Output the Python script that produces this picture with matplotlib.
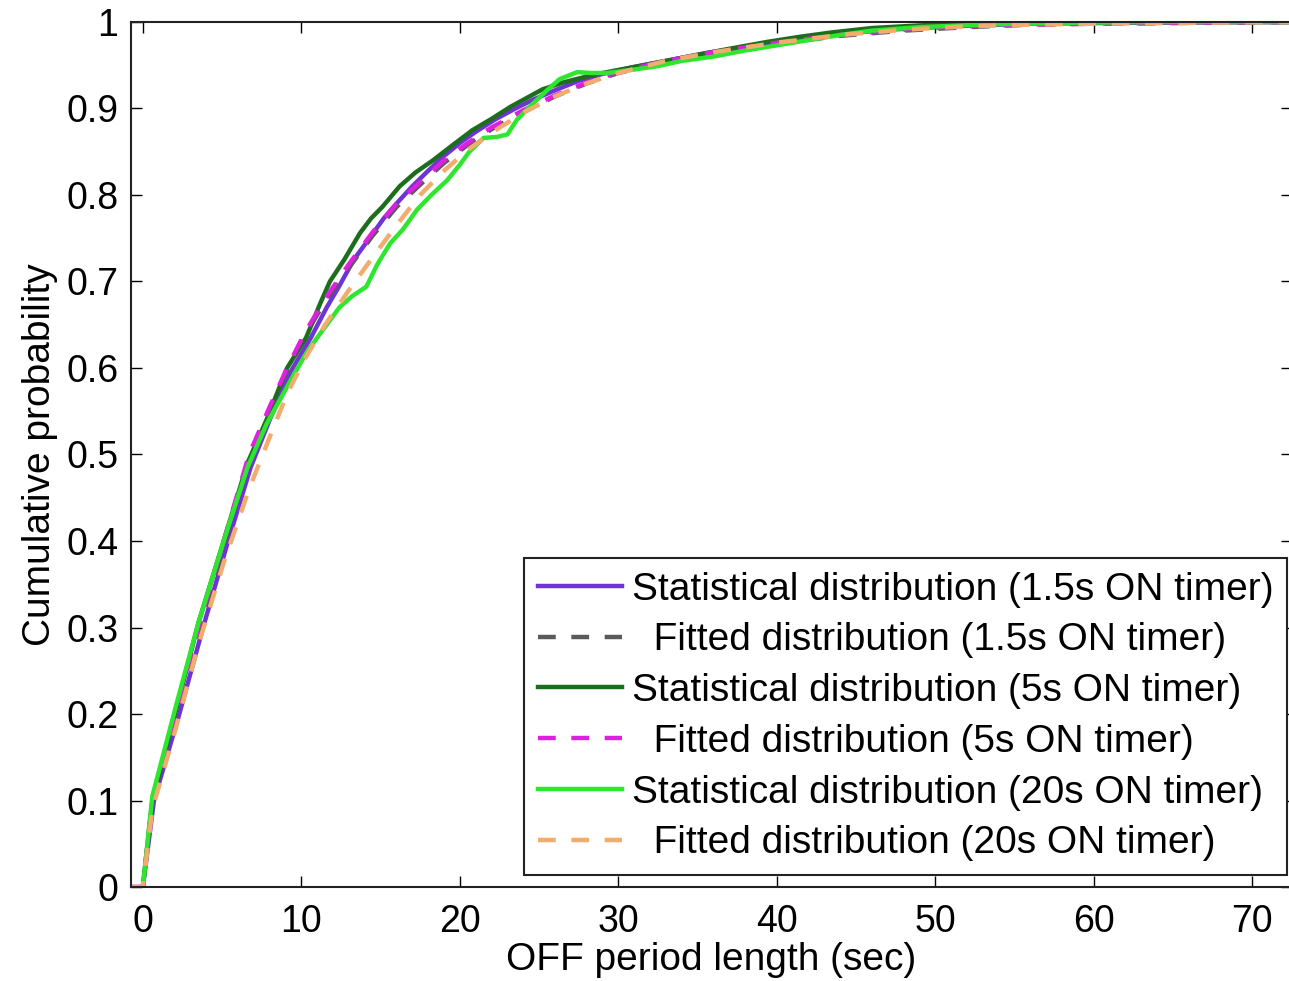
import matplotlib.pyplot as plt

plt.rcParams['font.family'] = ['Liberation Sans', 'DejaVu Sans']

# OFF period CDFs
x_stat_1_5 = [0, 0.7, 2.3, 3.8, 5.3, 6.8, 8.0, 9.3, 10.6, 11.6, 12.4, 13.3, 14.3, 15.2, 16.0,
              17.0, 18.0, 19.0, 20.0, 21.0, 22.2, 23.4, 24.6, 26, 27.5, 29, 31, 33, 35.5,
              38, 41, 44, 47, 51, 56, 62, 72.5]
p_stat_1_5 = [0, 0.10, 0.20, 0.30, 0.395, 0.485, 0.54, 0.595, 0.635, 0.67, 0.695, 0.725, 0.75,
              0.773, 0.79, 0.81, 0.828, 0.845, 0.86, 0.873, 0.887, 0.899, 0.91, 0.921, 0.932,
              0.94, 0.948, 0.955, 0.964, 0.971, 0.979, 0.986, 0.991, 0.995, 0.998, 0.999, 1.0]

x_stat_5 = [0, 0.6, 2.1, 3.5, 5.1, 6.6, 7.8, 9.1, 10.3, 11.2, 11.8, 12.7, 13.7, 14.4, 15.1,
            16.2, 17.2, 18.3, 19.5, 20.8, 22.0, 23.2, 24.2, 25.2, 26.5, 27.8, 29, 31, 33, 35,
            37, 39.4, 41.5, 43.5, 46, 50, 55, 60, 72.5]
p_stat_5 = [0, 0.10, 0.205, 0.305, 0.40, 0.49, 0.54, 0.60, 0.635, 0.675, 0.70, 0.725, 0.756,
            0.773, 0.786, 0.81, 0.826, 0.84, 0.857, 0.875, 0.888, 0.902, 0.912, 0.922, 0.93,
            0.936, 0.941, 0.948, 0.955, 0.962, 0.969, 0.977, 0.983, 0.988, 0.993, 0.997, 0.999,
            1.0, 1.0]

x_stat_20 = [0, 0.6, 2.1, 3.5, 5.1, 6.6, 7.8, 9.3, 10.4, 11.4, 12.4, 13.2, 14.1, 14.8, 15.6,
             16.4, 17.3, 18.2, 19.2, 20.0, 20.6, 21.5, 22.3, 23.0, 23.6, 24.4, 25.5, 26.3,
             27.4, 28.3, 29.3, 31, 32.5, 34, 36, 38, 40, 42, 44, 46, 49, 53, 58, 65, 72.5]
p_stat_20 = [0, 0.105, 0.21, 0.305, 0.40, 0.485, 0.535, 0.585, 0.62, 0.645, 0.67, 0.683, 0.694,
             0.72, 0.744, 0.76, 0.783, 0.80, 0.817, 0.835, 0.85, 0.866, 0.867, 0.87, 0.887,
             0.902, 0.921, 0.934, 0.942, 0.941, 0.941, 0.945, 0.949, 0.955, 0.96, 0.967, 0.973,
             0.979, 0.985, 0.99, 0.994, 0.997, 0.999, 1.0, 1.0]

x_fit = [-0.75, 0, 0.6, 2.1, 3.5, 5.1, 6.7, 8, 9.1, 10.2, 11.5, 13, 14.5, 16, 17.5, 19, 20.5,
         22, 24, 26, 28, 30, 33, 36, 40, 44, 48, 52, 56, 60, 66, 72.5]
p_fit_1_5 = [0, 0, 0.095, 0.195, 0.295, 0.395, 0.495, 0.55, 0.597, 0.637, 0.677, 0.716, 0.753,
             0.786, 0.812, 0.837, 0.858, 0.876, 0.896, 0.914, 0.929, 0.941, 0.954, 0.964,
             0.975, 0.984, 0.99, 0.994, 0.997, 0.998, 0.999, 1.0]
p_fit_5 = [0, 0, 0.10, 0.20, 0.30, 0.40, 0.50, 0.555, 0.60, 0.64, 0.68, 0.72, 0.757, 0.79,
           0.815, 0.84, 0.86, 0.878, 0.898, 0.915, 0.93, 0.942, 0.955, 0.965, 0.976, 0.985,
           0.991, 0.995, 0.997, 0.998, 0.999, 1.0]
p_fit_20 = [0, 0, 0.09, 0.185, 0.28, 0.375, 0.46, 0.52, 0.57, 0.61, 0.65, 0.69, 0.728, 0.765,
            0.80, 0.828, 0.852, 0.872, 0.895, 0.914, 0.929, 0.941, 0.955, 0.965, 0.976, 0.985,
            0.991, 0.995, 0.997, 0.998, 0.999, 1.0]

x_ticks = [0, 10, 20, 30, 40, 50, 60, 70]
y_ticks = [0, 0.1, 0.2, 0.3, 0.4, 0.5, 0.6, 0.7, 0.8, 0.9, 1]
y_ticklabels = ['0', '0.1', '0.2', '0.3', '0.4', '0.5', '0.6', '0.7', '0.8', '0.9', '1']

fig = plt.figure(figsize=(12.89, 9.81), dpi=100)
ax = fig.add_axes([0.1016, 0.0958, 0.9007, 0.8818])

lw = 3.2
dash = (0, (4, 3.5))
ax.plot(x_stat_1_5, p_stat_1_5, color='#7033d6', lw=lw, label='Statistical distribution (1.5s ON timer)')
ax.plot(x_fit, p_fit_1_5, color='#5a5a5a', lw=lw, ls=dash, label='  Fitted distribution (1.5s ON timer)')
ax.plot(x_stat_5, p_stat_5, color='#1c6e1c', lw=lw, label='Statistical distribution (5s ON timer)')
ax.plot(x_fit, p_fit_5, color='#e020e0', lw=lw, ls=dash, label='  Fitted distribution (5s ON timer)')
ax.plot(x_stat_20, p_stat_20, color='#2ee62e', lw=lw, label='Statistical distribution (20s ON timer)')
ax.plot(x_fit, p_fit_20, color='#f2ad6e', lw=lw, ls=dash, label='  Fitted distribution (20s ON timer)')

ax.set_xlim(-0.75, 72.5)
ax.set_ylim(0, 1)
ax.set_xticks(x_ticks)
ax.set_yticks(y_ticks)
ax.set_yticklabels(y_ticklabels)
ax.tick_params(direction='in', length=8, width=1, labelsize=27, top=True, right=True)
ax.tick_params(axis='x', pad=12)
ax.tick_params(axis='y', pad=9)
for s in ax.spines.values():
    s.set_linewidth(1.5)
    s.set_color('#222222')

ax.set_xlabel('OFF period length (sec)', fontsize=28, labelpad=2)
ax.set_ylabel('Cumulative probability', fontsize=28, labelpad=6)

leg = ax.legend(loc='lower right', bbox_to_anchor=(0.9984, 0.108), bbox_transform=fig.transFigure,
                fontsize=28, handlelength=2.15, handletextpad=0.26, labelspacing=0.38,
                fancybox=False, framealpha=1, borderpad=0.35, borderaxespad=0)
leg.get_frame().set_edgecolor('#222222')
leg.get_frame().set_linewidth(1.5)

fig.savefig('out.png', dpi=100)
